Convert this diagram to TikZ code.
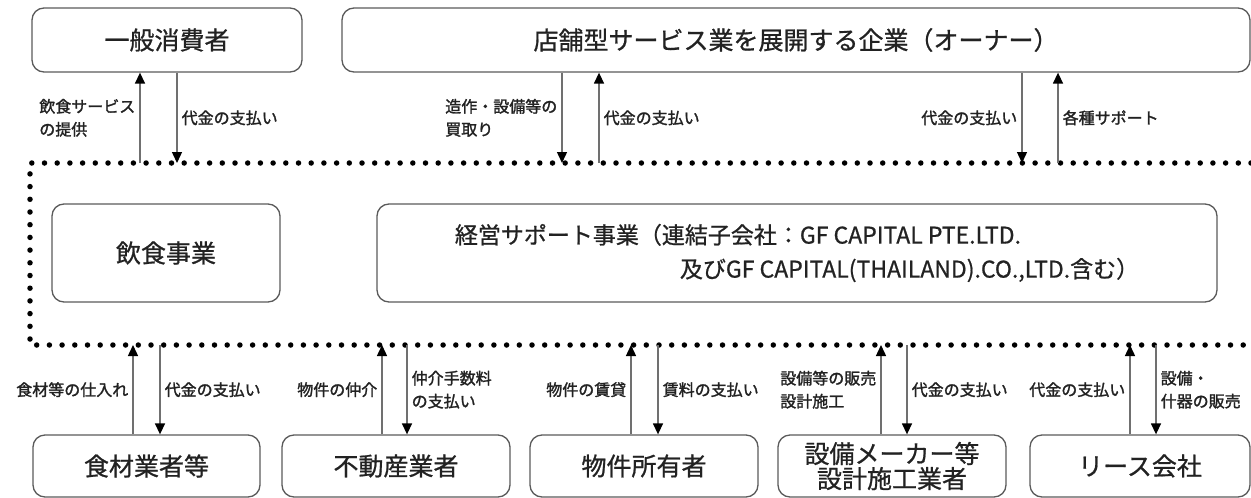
\documentclass[tikz,border=0pt]{standalone}
\usepackage{fontspec}
\setmainfont{Noto Sans CJK JP}[FakeBold=0.8]
\newfontfamily\labfont{Noto Sans CJK JP}[FakeBold=1.6]
\usetikzlibrary{arrows.meta}
\definecolor{edgegray}{HTML}{5A5A5A}
\definecolor{flowgray}{HTML}{707070}
\definecolor{inkgray}{HTML}{222222}
\begin{document}
\begin{tikzpicture}[x=1pt,y=-1pt,
  party/.style={draw=edgegray,line width=1.3pt,rounded corners=12pt,text=inkgray,font=\fontsize{25pt}{25pt}\selectfont,align=center,inner sep=0pt},
  flow/.style={draw=flowgray,line width=1.4pt,-{Triangle[width=10pt,length=11pt,color=black]}},
  lab/.style={text=inkgray,font=\labfont\fontsize{16pt}{23pt}\selectfont,align=left,inner sep=4pt},
  dotline/.style={line width=5.5pt,line cap=round,dash pattern=on 0pt off 12.7pt}]
\useasboundingbox (0,0) rectangle (1251,498);
\node[party,minimum width=270pt,minimum height=64pt] (consumer) at (167,40) {一般消費者};
\node[party,minimum width=908pt,minimum height=64pt] (owner) at (796,40) {店舗型サービス業を展開する企業（オーナー）};
\node[party,minimum width=228pt,minimum height=98pt] (food) at (166,253) {飲食事業};
\node[party,minimum width=840pt,minimum height=98pt,align=left,font=\fontsize{23pt}{34pt}\selectfont] (support) at (797,253) {経営サポート事業（連結子会社：GF CAPITAL PTE.LTD.\\\hspace*{225pt}及びGF CAPITAL(THAILAND).CO.,LTD.含む）};
\node[party,minimum width=227pt,minimum height=62pt] (grocer) at (146.5,466) {食材業者等};
\node[party,minimum width=228pt,minimum height=62pt] (realtor) at (396,466) {不動産業者};
\node[party,minimum width=228pt,minimum height=62pt] (landlord) at (644,466) {物件所有者};
\node[party,minimum width=228pt,minimum height=62pt] (maker) at (892,466) {設備メーカー等\\設計施工業者};
\node[party,minimum width=220pt,minimum height=62pt] (lease) at (1140,466) {リース会社};
\draw[dotline] (1251,163) -- (30,163) -- (30,345) -- (1251,345);
\coordinate (t1) at (140,163);
\coordinate (t2) at (177,163);
\coordinate (t3) at (562,163);
\coordinate (t4) at (599,163);
\coordinate (t5) at (1022,163);
\coordinate (t6) at (1058,163);
\coordinate (b1) at (133,345);
\coordinate (b2) at (160,345);
\coordinate (b3) at (382,345);
\coordinate (b4) at (407,345);
\coordinate (b5) at (631,345);
\coordinate (b6) at (658,345);
\coordinate (b7) at (881,345);
\coordinate (b8) at (907,345);
\coordinate (b9) at (1130,345);
\coordinate (b10) at (1156,345);
\draw[flow] (t1) -- (t1 |- consumer.south) node[lab,midway,left] {飲食サービス\\の提供};
\draw[flow] (consumer.south -| t2) -- (t2) node[lab,midway,right] {代金の支払い};
\draw[flow] (owner.south -| t3) -- (t3) node[lab,midway,left] {造作・設備等の\\買取り};
\draw[flow] (t4) -- (t4 |- owner.south) node[lab,midway,right] {代金の支払い};
\draw[flow] (owner.south -| t5) -- (t5) node[lab,midway,left] {代金の支払い};
\draw[flow] (t6) -- (t6 |- owner.south) node[lab,midway,right] {各種サポート};
\draw[flow] (grocer.north -| b1) -- (b1) node[lab,midway,left] {食材等の仕入れ};
\draw[flow] (b2) -- (b2 |- grocer.north) node[lab,midway,right] {代金の支払い};
\draw[flow] (realtor.north -| b3) -- (b3) node[lab,midway,left] {物件の仲介};
\draw[flow] (b4) -- (b4 |- realtor.north) node[lab,midway,right] {仲介手数料\\の支払い};
\draw[flow] (landlord.north -| b5) -- (b5) node[lab,midway,left] {物件の賃貸};
\draw[flow] (b6) -- (b6 |- landlord.north) node[lab,midway,right] {賃料の支払い};
\draw[flow] (maker.north -| b7) -- (b7) node[lab,midway,left] {設備等の販売\\設計施工};
\draw[flow] (b8) -- (b8 |- maker.north) node[lab,midway,right] {代金の支払い};
\draw[flow] (lease.north -| b9) -- (b9) node[lab,midway,left] {代金の支払い};
\draw[flow] (b10) -- (b10 |- lease.north) node[lab,midway,right] {設備・\\什器の販売};
\end{tikzpicture}
\end{document}
